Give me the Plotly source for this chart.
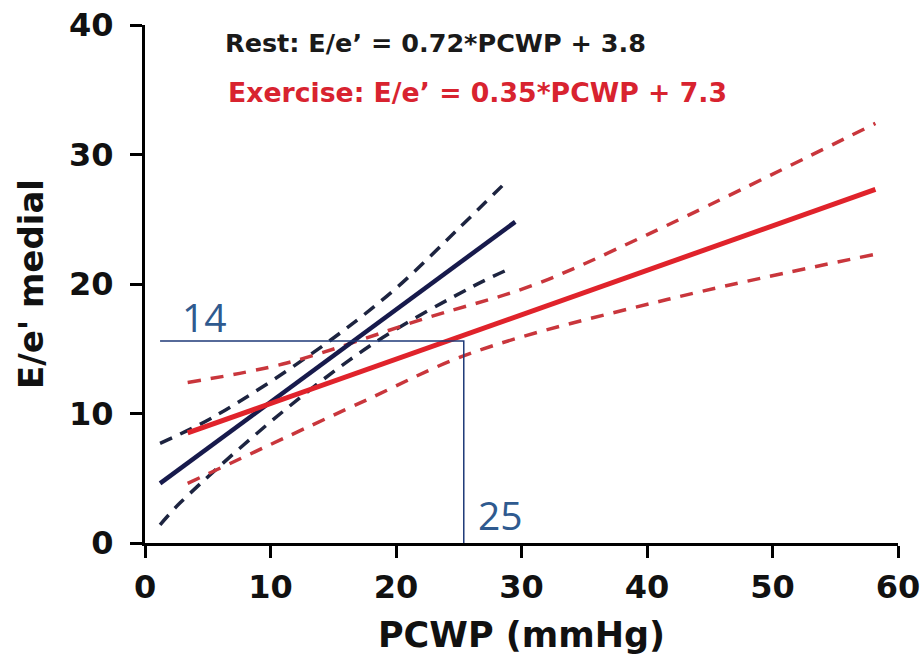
import plotly.graph_objects as go

# ---- data ----
rest_x = [1.2, 29.5]
rest_y = [4.6, 24.8]
rest_upper_x = [1.2, 5.4, 13.4, 19.8, 24.9, 28.9]
rest_upper_y = [7.7, 9.7, 14.7, 19.5, 24.2, 28.0]
rest_lower_x = [1.2, 2.8, 10.8, 18.2, 26.1, 29.1]
rest_lower_y = [1.4, 3.1, 10.0, 15.4, 19.8, 21.2]

ex_x = [3.4, 58.2]
ex_y = [8.5, 27.3]
ex_upper_x = [3.4, 11.3, 22.5, 30.9, 40.0, 58.2]
ex_upper_y = [12.4, 13.9, 17.4, 19.9, 23.8, 32.4]
ex_lower_x = [3.4, 17.1, 26.1, 41.6, 58.2]
ex_lower_y = [4.6, 10.8, 14.7, 18.8, 22.3]

guide_x = [1.2, 25.4, 25.4]
guide_y = [15.6, 15.6, 0.0]

x_ticks = [0, 10, 20, 30, 40, 50, 60]
y_ticks = [0, 10, 20, 30, 40]

rest_label = "Rest: E/e\u2019 = 0.72*PCWP + 3.8"
ex_label = "Exercise: E/e\u2019 = 0.35*PCWP + 7.3"

NAVY = "#171a4c"
NAVY_D = "#1d2440"
RED = "#e0232b"
RED_D = "#c9363c"
GUIDE = "#1f3a78"
GUIDE_TXT = "#2f5a8f"
FONT = "DejaVu Sans"

fig = go.Figure()

fig.add_trace(go.Scatter(x=rest_upper_x, y=rest_upper_y, mode="lines",
                         line=dict(color=NAVY_D, width=3.5, dash="13px,9px", shape="spline"),
                         showlegend=False, hoverinfo="skip"))
fig.add_trace(go.Scatter(x=rest_lower_x, y=rest_lower_y, mode="lines",
                         line=dict(color=NAVY_D, width=3.5, dash="13px,9px", shape="spline"),
                         showlegend=False, hoverinfo="skip"))
fig.add_trace(go.Scatter(x=ex_upper_x, y=ex_upper_y, mode="lines",
                         line=dict(color=RED_D, width=3.5, dash="13px,10px", shape="spline"),
                         showlegend=False, hoverinfo="skip"))
fig.add_trace(go.Scatter(x=ex_lower_x, y=ex_lower_y, mode="lines",
                         line=dict(color=RED_D, width=3.5, dash="13px,10px", shape="spline"),
                         showlegend=False, hoverinfo="skip"))
fig.add_trace(go.Scatter(x=rest_x, y=rest_y, mode="lines",
                         line=dict(color=NAVY, width=4.5),
                         showlegend=False, name="Rest"))
fig.add_trace(go.Scatter(x=ex_x, y=ex_y, mode="lines",
                         line=dict(color=RED, width=5),
                         showlegend=False, name="Exercise"))
fig.add_trace(go.Scatter(x=guide_x, y=guide_y, mode="lines",
                         line=dict(color=GUIDE, width=1.5),
                         showlegend=False, hoverinfo="skip", cliponaxis=False))

fig.add_annotation(x=6.2, y=38.6, xref="x", yref="y", text=rest_label,
                   showarrow=False, xanchor="left", yanchor="middle",
                   font=dict(family=FONT, size=25.5, color="#1a1a1a", weight="bold"))
fig.add_annotation(x=6.45, y=34.8, xref="x", yref="y", text=ex_label,
                   showarrow=False, xanchor="left", yanchor="middle",
                   font=dict(family=FONT, size=26.7, color="#d8232f", weight="bold"))
fig.add_annotation(x=2.75, y=17.5, xref="x", yref="y", text="14",
                   showarrow=False, xanchor="left", yanchor="middle",
                   font=dict(family="Open Sans", size=39, color=GUIDE_TXT))
fig.add_annotation(x=26.4, y=2.2, xref="x", yref="y", text="25",
                   showarrow=False, xanchor="left", yanchor="middle",
                   font=dict(family="Open Sans", size=39, color=GUIDE_TXT))

axis_common = dict(showline=True, linewidth=3, linecolor="black",
                   ticks="outside", ticklen=12, tickwidth=3, tickcolor="black",
                   showgrid=False, zeroline=False,
                   tickfont=dict(family=FONT, size=32, color="#111", weight="bold"))

fig.update_xaxes(range=[0, 60], tickvals=x_ticks, ticktext=[str(v) for v in x_ticks],
                 title=dict(text="PCWP (mmHg)", standoff=18,
                            font=dict(family=FONT, size=35, color="#111", weight="bold")),
                 ticklabelstandoff=2, **axis_common)
fig.update_yaxes(range=[0, 40], tickvals=y_ticks, ticktext=[str(v) for v in y_ticks],
                 title=dict(text="E/e' medial", standoff=16,
                            font=dict(family=FONT, size=34, color="#111", weight="bold")),
                 ticklabelstandoff=10, **axis_common)

fig.update_layout(width=921, height=664, margin=dict(l=145, r=23, t=25, b=121, autoexpand=False),
                  plot_bgcolor="white", paper_bgcolor="white", showlegend=False)

fig.write_html("out.html", config={"displayModeBar": False},
               post_script="document.body.style.margin='0';document.body.style.overflow='hidden';")
